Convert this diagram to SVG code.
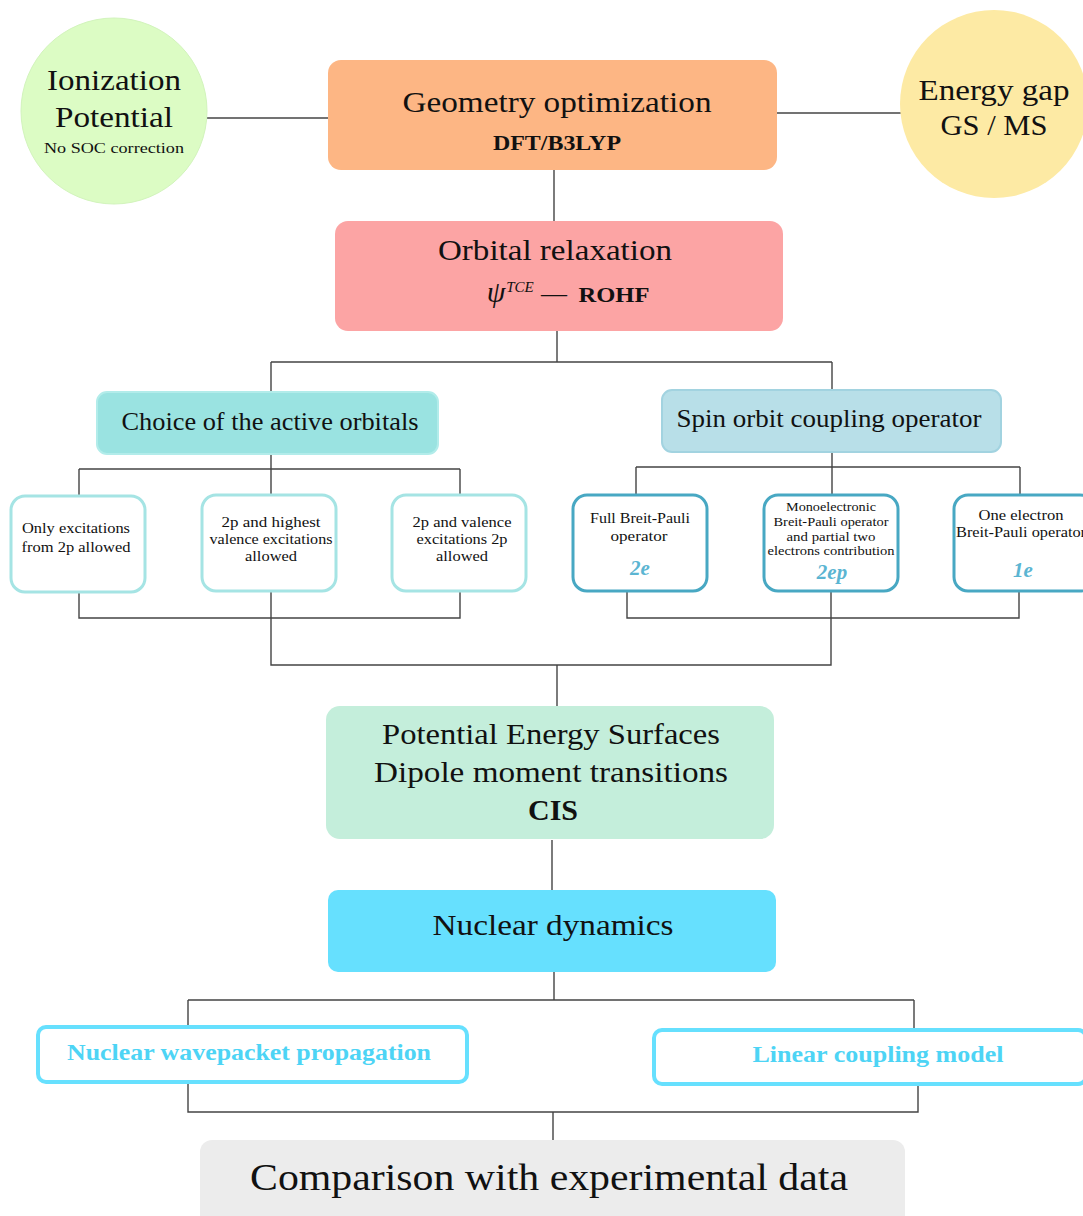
<svg xmlns="http://www.w3.org/2000/svg" width="1083" height="1216" viewBox="0 0 1083 1216">
<style>
text{font-family:"Liberation Serif","Times New Roman",serif;fill:#111;text-anchor:middle}
.t28{font-size:29px}
.t24{font-size:25px}
.s15{font-size:15.5px}
.s13{font-size:13.5px}
.b{font-weight:bold}
.lbl{font-size:21px;font-weight:bold;font-style:italic;fill:#5bb5d2}
.cy{font-size:23px;font-weight:bold;fill:#4dd4f5}
.conn{fill:none;stroke:#444;stroke-width:1.4}
.lsub{fill:#fff;stroke:#a5e4e4;stroke-width:3}
.rsub{fill:#fff;stroke:#48a8c3;stroke-width:3}
.cybox{fill:#fff;stroke:#66e0fe;stroke-width:4}
</style>
<g id="connectors">
<path class="conn" d="M207 118H328"/>
<path class="conn" d="M777 113H902"/>
<path class="conn" d="M554 170V221"/>
<path class="conn" d="M557 331V362M271 362H832M271 362V392M832 362V390"/>
<path class="conn" d="M271 454V496M79 469H460M79 469V496M460 469V495"/>
<path class="conn" d="M79 592V618H460V592M271 591V665H831V591"/>
<path class="conn" d="M832 452V495M636 467H1020M636 467V495M1020 467V495"/>
<path class="conn" d="M627 592V618H1019V592"/>
<path class="conn" d="M557 665V706"/>
<path class="conn" d="M552 840V890"/>
<path class="conn" d="M554 972V1000M188 1000H914M188 1000V1027M914 1000V1030"/>
<path class="conn" d="M188 1083V1112H918V1085M553 1112V1140"/>
</g>
<g id="ionization">
<circle cx="114" cy="111" r="93" fill="#dcfcc4" stroke="#d2f4bc" stroke-width="1"/>
<text class="t28" x="114" y="90" textLength="134" lengthAdjust="spacingAndGlyphs">Ionization</text>
<text class="t28" x="114" y="127" textLength="118" lengthAdjust="spacingAndGlyphs">Potential</text>
<text class="s15" x="114" y="153" textLength="140" lengthAdjust="spacingAndGlyphs">No SOC correction</text>
</g>
<g id="geometry">
<rect x="328" y="60" width="449" height="110" rx="13" fill="#fdb684"/>
<text class="t28" x="557" y="112" textLength="309" lengthAdjust="spacingAndGlyphs">Geometry optimization</text>
<text class="b" x="557" y="150" font-size="22" textLength="128" lengthAdjust="spacingAndGlyphs">DFT/B3LYP</text>
</g>
<g id="energygap">
<circle cx="994" cy="104" r="94" fill="#fdeaa4"/>
<text class="t28" x="994" y="100" textLength="151" lengthAdjust="spacingAndGlyphs">Energy gap</text>
<text class="t28" x="994" y="135" textLength="107" lengthAdjust="spacingAndGlyphs">GS / MS</text>
</g>
<g id="orbital">
<rect x="335" y="221" width="448" height="110" rx="13" fill="#fca4a4"/>
<text class="t28" x="555" y="260" textLength="234" lengthAdjust="spacingAndGlyphs">Orbital relaxation</text>
<text x="496" y="302" font-size="30" font-style="italic">ψ</text>
<text x="520" y="292" font-size="15" font-style="italic">TCE</text>
<text x="554" y="302" font-size="26">—</text>
<text class="b" x="614" y="302" font-size="22" textLength="71" lengthAdjust="spacingAndGlyphs">ROHF</text>
</g>
<g id="choice">
<rect x="97" y="392" width="341" height="62" rx="10" fill="#9ae3e1" stroke="#b2ecea" stroke-width="2"/>
<text class="t24" x="270" y="430" textLength="297" lengthAdjust="spacingAndGlyphs">Choice of the active orbitals</text>
</g>
<g id="spin">
<rect x="662" y="390" width="339" height="62" rx="10" fill="#b8dfe8" stroke="#a2d3e0" stroke-width="2"/>
<text class="t24" x="829" y="427" textLength="305" lengthAdjust="spacingAndGlyphs">Spin orbit coupling operator</text>
</g>
<g id="only2p">
<rect class="lsub" x="11" y="496" width="134" height="96" rx="14"/>
<text class="s15" x="76" y="533" textLength="108" lengthAdjust="spacingAndGlyphs">Only excitations</text>
<text class="s15" x="76" y="552" textLength="109" lengthAdjust="spacingAndGlyphs">from 2p allowed</text>
</g>
<g id="highest">
<rect class="lsub" x="202" y="495" width="134" height="96" rx="14"/>
<text class="s15" x="271" y="527" textLength="99" lengthAdjust="spacingAndGlyphs">2p and highest</text>
<text class="s15" x="271" y="544" textLength="123" lengthAdjust="spacingAndGlyphs">valence excitations</text>
<text class="s15" x="271" y="561" textLength="52" lengthAdjust="spacingAndGlyphs">allowed</text>
</g>
<g id="valence">
<rect class="lsub" x="392" y="495" width="134" height="96" rx="14"/>
<text class="s15" x="462" y="527" textLength="99" lengthAdjust="spacingAndGlyphs">2p and valence</text>
<text class="s15" x="462" y="544" textLength="91" lengthAdjust="spacingAndGlyphs">excitations 2p</text>
<text class="s15" x="462" y="561" textLength="52" lengthAdjust="spacingAndGlyphs">allowed</text>
</g>
<g id="full2e">
<rect class="rsub" x="573" y="495" width="134" height="96" rx="14"/>
<text class="s15" x="640" y="523" textLength="100" lengthAdjust="spacingAndGlyphs">Full Breit-Pauli</text>
<text class="s15" x="639" y="541" textLength="57" lengthAdjust="spacingAndGlyphs">operator</text>
<text class="lbl" x="640" y="575">2e</text>
</g>
<g id="mono2ep">
<rect class="rsub" x="764" y="495" width="134" height="96" rx="14"/>
<text class="s13" x="831" y="511" textLength="90" lengthAdjust="spacingAndGlyphs">Monoelectronic</text>
<text class="s13" x="831" y="526" textLength="115" lengthAdjust="spacingAndGlyphs">Breit-Pauli operator</text>
<text class="s13" x="831" y="541" textLength="89" lengthAdjust="spacingAndGlyphs">and partial two</text>
<text class="s13" x="831" y="555" textLength="127" lengthAdjust="spacingAndGlyphs">electrons contribution</text>
<text class="lbl" x="832" y="579">2ep</text>
</g>
<g id="one1e">
<rect class="rsub" x="954" y="495" width="140" height="96" rx="14"/>
<text class="s15" x="1021" y="520" textLength="85" lengthAdjust="spacingAndGlyphs">One electron</text>
<text class="s15" x="1021" y="537" textLength="130" lengthAdjust="spacingAndGlyphs">Breit-Pauli operator</text>
<text class="lbl" x="1023" y="577">1e</text>
</g>
<g id="pes">
<rect x="326" y="706" width="448" height="133" rx="14" fill="#c4eedb"/>
<text class="t28" x="551" y="744" textLength="338" lengthAdjust="spacingAndGlyphs">Potential Energy Surfaces</text>
<text class="t28" x="551" y="782" textLength="354" lengthAdjust="spacingAndGlyphs">Dipole moment transitions</text>
<text class="b" x="553" y="820" font-size="30" textLength="50" lengthAdjust="spacingAndGlyphs">CIS</text>
</g>
<g id="nuclear">
<rect x="328" y="890" width="448" height="82" rx="10" fill="#66e0fe"/>
<text class="t28" x="553" y="935" textLength="241" lengthAdjust="spacingAndGlyphs">Nuclear dynamics</text>
</g>
<g id="wavepacket">
<rect class="cybox" x="38" y="1027" width="429" height="55" rx="8"/>
<text class="cy" x="249" y="1060" textLength="364" lengthAdjust="spacingAndGlyphs">Nuclear wavepacket propagation</text>
</g>
<g id="linear">
<rect class="cybox" x="654" y="1030" width="432" height="54" rx="8"/>
<text class="cy" x="878" y="1062" textLength="251" lengthAdjust="spacingAndGlyphs">Linear coupling model</text>
</g>
<g id="comparison">
<rect x="200" y="1140" width="705" height="90" rx="12" fill="#ececec"/>
<text x="549" y="1190" font-size="38" textLength="598" lengthAdjust="spacingAndGlyphs">Comparison with experimental data</text>
</g>
</svg>
